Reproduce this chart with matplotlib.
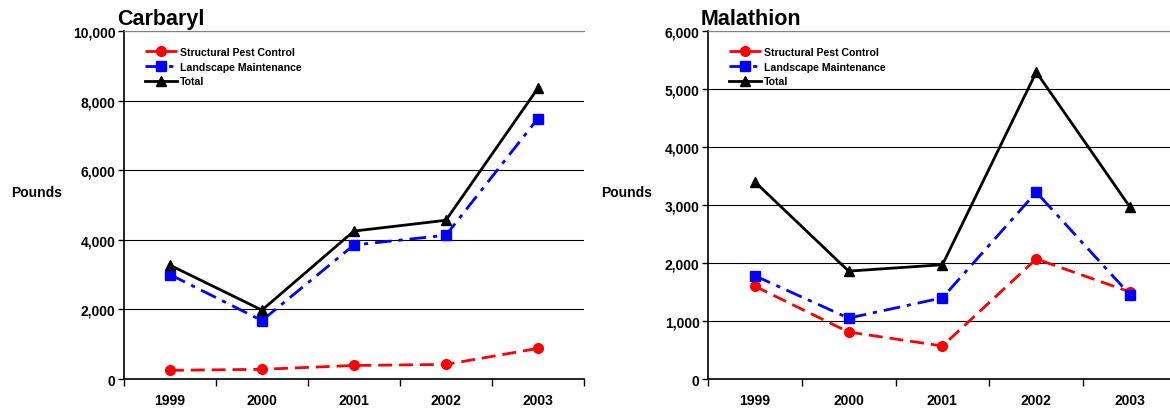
import matplotlib
matplotlib.use("Agg")
import matplotlib.pyplot as plt

plt.rcParams['font.family'] = ['Liberation Sans', 'DejaVu Sans']
plt.rcParams['font.weight'] = 'bold'

years = ['1999', '2000', '2001', '2002', '2003']

# Carbaryl (pounds)
carb_structural = [250, 280, 390, 420, 880]
carb_landscape = [3000, 1680, 3850, 4130, 7480]
carb_total = [3270, 1980, 4250, 4560, 8350]

# Malathion (pounds)
mala_structural = [1600, 810, 570, 2070, 1500]
mala_landscape = [1780, 1050, 1400, 3220, 1450]
mala_total = [3400, 1860, 1970, 5290, 2960]

charts = [
    ('Carbaryl', carb_structural, carb_landscape, carb_total, 10000, 2000,
     [0.106, 0.082, 0.393, 0.841]),
    ('Malathion', mala_structural, mala_landscape, mala_total, 6000, 1000,
     [0.605, 0.082, 0.401, 0.841]),
]

fig = plt.figure(figsize=(11.7, 4.14), dpi=100)

for title, s, l, t, ymax, step, rect in charts:
    ax = fig.add_axes(rect)
    x = list(range(len(years)))
    ax.plot(x, s, color='red', linestyle=(0, (5, 2.5)), linewidth=2,
            marker='o', markersize=7, label='Structural Pest Control')
    ax.plot(x, l, color='blue', linestyle=(0, (6, 2.5, 1.5, 2.5)), linewidth=2,
            marker='s', markersize=7, label='Landscape Maintenance')
    ax.plot(x, t, color='black', linestyle='-', linewidth=2,
            marker='^', markersize=7, label='Total')

    ax.set_xlim(-0.5, len(years) - 0.5)
    ax.set_ylim(0, ymax)
    ax.set_yticks(range(0, ymax + 1, step))
    ax.set_yticklabels([f'{v:,}' for v in range(0, ymax + 1, step)],
                       fontsize=10, fontweight='bold')
    ax.set_xticks(x)
    ax.set_xticklabels(years, fontsize=10, fontweight='bold')
    ax.set_xticks([i - 0.5 for i in range(len(years) + 1)], minor=True)
    ax.tick_params(axis='x', which='major', length=0, pad=10)
    ax.tick_params(axis='x', which='minor', length=5, width=1, direction='out')
    ax.tick_params(axis='y', length=4, width=1, direction='out', pad=2)

    ax.grid(axis='y', color='black', linewidth=0.8)
    ax.set_axisbelow(True)
    ax.spines['right'].set_visible(False)
    ax.spines['top'].set_color('#808080')
    ax.spines['left'].set_linewidth(1.2)
    ax.spines['bottom'].set_linewidth(1.2)

    ax.set_title(title, loc='left', fontsize=15.5, fontweight='bold',
                 x=-0.016, pad=5)
    ax.set_ylabel('Pounds', rotation=0, fontsize=10, fontweight='bold',
                  va='center', ha='left')
    ax.yaxis.set_label_coords(-0.245 if ymax == 10000 else -0.228, 0.537)

    ax.legend(loc='upper left', bbox_to_anchor=(0.03, 0.975), frameon=False,
              fontsize=7.6, handlelength=3.0, handletextpad=0.25,
              labelspacing=0.45, borderaxespad=0.3)

fig.savefig('out.png', dpi=100)
